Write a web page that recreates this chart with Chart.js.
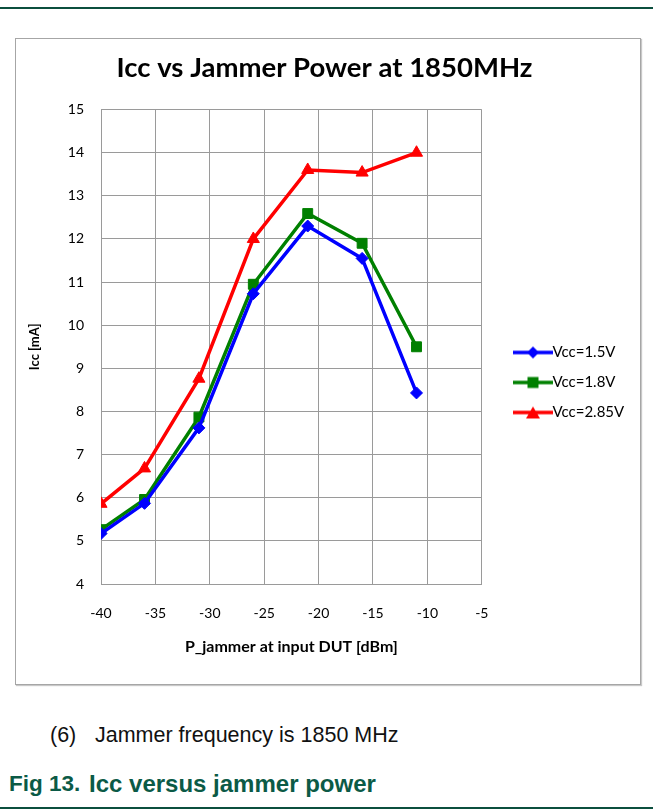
<!DOCTYPE html>
<html>
<head>
<meta charset="utf-8">
<script src="https://cdn.jsdelivr.net/npm/chart.js@4.4.1/dist/chart.umd.min.js"></script>
<style>
    body { margin: 0; background: #fff; width: 653px; height: 811px; position: relative; overflow: hidden; font-family: 'Liberation Sans', Arial, sans-serif; }
    .rule { position: absolute; left: 0; width: 653px; height: 2px; background: #0b4f3e; }
    #box { position: absolute; left: 15px; top: 38px; width: 626px; height: 647px; box-sizing: border-box; border: 1px solid #a6a6a6; box-shadow: 1px 1px 1px #c8c8c8; }
    #chart13 { position: absolute; left: 0; top: 0; }
    .txt { position: absolute; white-space: nowrap; }
    .note { font-size: 21.5px; color: #111; top: 723px; }
    .fig { font-size: 24px; font-weight: bold; color: #0b5a46; top: 770px; }
</style>
</head>
<body>
<div class="rule" style="top:7px"></div>
<div id="box"><canvas id="chart13" width="624" height="645"></canvas></div>
<div class="txt note" style="left:50px">(6)</div>
<div class="txt note" style="left:95px">Jammer frequency is 1850 MHz</div>
<div class="txt fig" style="left:9px; font-size:22.5px; top:771px">Fig 13.</div>
<div class="txt fig" style="left:89px">Icc versus jammer power</div>
<div class="rule" style="top:807px"></div>

<script>
// data
const jammerPower = [-40, -36, -31, -26, -21, -16, -11];
const icc15 = [5.17, 5.87, 7.62, 10.73, 12.3, 11.55, 8.43];
const icc18 = [5.26, 5.96, 7.87, 10.95, 12.59, 11.9, 9.5];
const icc285 = [5.86, 6.68, 8.76, 12.0, 13.6, 13.54, 14.0];
const seriesNames = ['Vcc=1.5V', 'Vcc=1.8V', 'Vcc=2.85V'];

const FONT = 'Lato, Calibri, sans-serif';

function pts(ys) {
    return jammerPower.map((x, i) => ({ x: x, y: ys[i] }));
}

// small line+marker glyphs for the legend (line sits in the right 40px)
function legendGlyph(color, shape) {
    const c = document.createElement('canvas');
    c.width = 56; c.height = 16;
    const g = c.getContext('2d');
    g.strokeStyle = color; g.fillStyle = color; g.lineWidth = 3.5;
    g.beginPath(); g.moveTo(16, 8); g.lineTo(56, 8); g.stroke();
    g.beginPath();
    if (shape === 'diamond') { g.moveTo(36, 2); g.lineTo(42, 8); g.lineTo(36, 14); g.lineTo(30, 8); }
    else if (shape === 'square') { g.rect(30.5, 2.5, 11, 11); }
    else { g.moveTo(36, 2); g.lineTo(43, 14); g.lineTo(29, 14); }
    g.closePath(); g.fill();
    return c;
}
const glyphs = [legendGlyph('#0000ff', 'diamond'), legendGlyph('#008000', 'square'), legendGlyph('#ff0000', 'triangle')];

const moveLegend = {
    id: 'moveLegend',
    afterLayout(chart) {
        const l = chart.legend;
        const dx = 474 - l.left, dy = 32;
        l.left += dx; l.right += dx + 40;
        l.top += dy; l.bottom += dy;
    }
};

const chart13 = new Chart(document.querySelector('#chart13'), {
    type: 'line',
    data: {
        datasets: [
            {
                label: seriesNames[0],
                data: pts(icc15),
                borderColor: '#0000ff',
                backgroundColor: '#0000ff',
                borderWidth: 3.5,
                pointStyle: 'rectRot',
                pointRadius: 6,
                pointBorderWidth: 1,
            },
            {
                label: seriesNames[1],
                data: pts(icc18),
                borderColor: '#008000',
                backgroundColor: '#008000',
                borderWidth: 3.5,
                pointStyle: 'rect',
                pointRadius: 7,
                pointBorderWidth: 1,
            },
            {
                label: seriesNames[2],
                data: pts(icc285),
                borderColor: '#ff0000',
                backgroundColor: '#ff0000',
                borderWidth: 3.5,
                pointStyle: 'triangle',
                pointRadius: 7,
                pointBorderWidth: 1,
            }
        ]
    },
    options: {
        responsive: false,
        animation: false,
        layout: { padding: { top: 2, right: 14, left: 7, bottom: 24 } },
        scales: {
            x: {
                type: 'linear',
                min: -40,
                max: -5,
                grid: { color: '#9a9a9a', drawTicks: false },
                border: { color: '#9a9a9a' },
                ticks: {
                    stepSize: 5,
                    padding: 21,
                    color: '#000',
                    font: { family: FONT, size: 14 }
                },
                title: {
                    display: true,
                    text: 'P_jammer at input DUT [dBm]',
                    color: '#000',
                    padding: { top: 4, bottom: 4 },
                    font: { family: FONT, size: 16, weight: 'bold' }
                },
                afterFit(s) { s.height = 76; }
            },
            y: {
                min: 4,
                max: 15,
                grid: { color: '#9a9a9a', drawTicks: false },
                border: { color: '#9a9a9a' },
                ticks: {
                    stepSize: 1,
                    padding: 17,
                    color: '#000',
                    font: { family: FONT, size: 14 }
                },
                title: {
                    display: true,
                    text: 'Icc [mA]',
                    color: '#000',
                    padding: 4,
                    font: { family: FONT, size: 13, weight: 'bold' }
                },
                afterFit(s) { s.width = 78; }
            }
        },
        plugins: {
            title: {
                display: true,
                text: 'Icc vs Jammer Power at 1850MHz',
                color: '#000',
                padding: { top: 11, bottom: 24.6 },
                font: { family: FONT, size: 27.5, weight: 'bold' }
            },
            legend: {
                position: 'right',
                labels: {
                    usePointStyle: true,
                    pointStyleWidth: 40,
                    padding: 15,
                    color: '#000',
                    font: { family: FONT, size: 15 },
                    generateLabels(chart) {
                        return chart.data.datasets.map((d, i) => ({
                            text: d.label,
                            pointStyle: glyphs[i],
                            fillStyle: d.borderColor,
                            strokeStyle: d.borderColor,
                            lineWidth: 0,
                            fontColor: '#000',
                            datasetIndex: i,
                            hidden: false
                        }));
                    }
                }
            },
            tooltip: { enabled: false }
        }
    },
    plugins: [moveLegend]
});
</script>
</body>
</html>
